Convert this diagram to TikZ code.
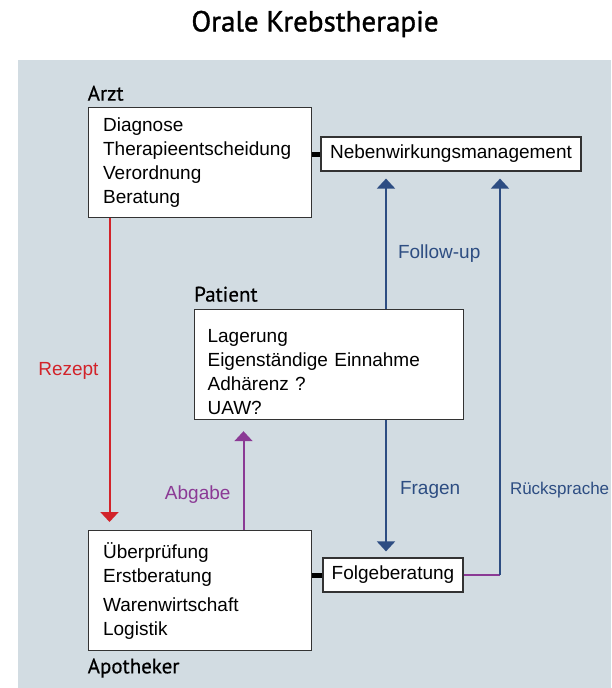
\documentclass[tikz,border=0pt]{standalone}
\usepackage{fontspec}
\setmainfont{Liberation Sans}
\newfontfamily\headfont[FakeBold=0.4]{PT Sans}
\newfontfamily\titlefont[FakeBold=1.2]{PT Sans}
\usepackage{xcolor}
\usetikzlibrary{positioning,arrows.meta}
\definecolor{bg-blue}{HTML}{D2DCE2}
\definecolor{rez-red}{HTML}{D2232A}
\definecolor{ab-purple}{HTML}{8B3A95}
\definecolor{fu-blue}{HTML}{2D4D82}

\begin{document}
\begin{tikzpicture}
[x=1pt, y=-1pt,
box-a/.style={rectangle, draw=black!80, line width=1.2pt, fill=white, align=left, inner xsep=15pt, inner ysep=0pt, anchor=north west, font=\fontsize{19}{24}\selectfont},
box-b/.style={rectangle, draw=black!80, line width=1.2pt, fill=white, inner xsep=0pt, inner ysep=0pt, minimum height=34pt, font=\fontsize{19}{24}\selectfont},
head-a/.style={inner sep=0pt, font=\headfont\fontsize{21}{24}\selectfont},
text-a/.style={inner sep=0pt, font=\fontsize{19}{22}\selectfont},
link-a/.style={line width=5pt, black},
arrow-a/.style={line width=2pt, -{Triangle[width=18pt,length=10pt]}},]
%\draw [dotted, step=50] (0,0) grid (611,688);
\useasboundingbox (0,0) rectangle (611,688);
\fill [bg-blue] (18,60) rectangle (611,688);
\node (title) [font=\titlefont\fontsize{29}{32}\selectfont] at (315,24) {Orale Krebstherapie};
\node (arzt-box)  [box-a, text width=193pt, minimum height=110pt] at (87.5,107) {Diagnose\\Therapieentscheidung\\Verordnung\\Beratung};
\node (arzt)      [head-a, above right = 6pt and 0pt of arzt-box.north west] {Arzt};
\node (neben-box) [box-b, minimum width=260pt] at (451,154) {Nebenwirkungsmanagement};
\node (pat-box)   [box-a, inner xsep=13pt, text width=243pt, minimum height=110pt] at (194,309) {\rule{0pt}{27pt}Lagerung\\Eigenständige Einnahme\\Adhärenz ?\\UAW?};
\node (patient)   [head-a, above right = 7pt and 0pt of pat-box.north west] {Patient};
\node (apo-box)   [box-a, text width=193pt, minimum height=120pt] at (87.5,530) {Überprüfung\\Erstberatung\\[5pt]Warenwirtschaft\\Logistik};
\node (apotheker) [head-a, below right = 7pt and 0pt of apo-box.south west] {Apotheker};
\node (folge-box) [box-b, minimum width=140pt] at (393,575) {Folgeberatung};
\coordinate (rez-x) at (109.5,0);
\coordinate (ab-x)  at (243.5,0);
\coordinate (fu-x)  at (386,0);
\coordinate (rs-x)  at (500,0);
\draw [link-a] (arzt-box.east |- neben-box.west) -- (neben-box.west);
\draw [link-a] (apo-box.east |- folge-box.west) -- (folge-box.west);
\draw [arrow-a, rez-red, shorten >=8pt] (arzt-box.south -| rez-x) -- node [text-a, left=10pt, pos=0.49] {Rezept} (apo-box.north -| rez-x);
\draw [arrow-a, ab-purple, shorten >=11pt] (apo-box.north -| ab-x) -- node [text-a, left=12pt, pos=0.32] {Abgabe} (pat-box.south -| ab-x);
\draw [arrow-a, fu-blue, shorten >=7pt] (pat-box.north -| fu-x) -- node [text-a, right=11pt, pos=0.4] {Follow-up} (neben-box.south -| fu-x);
\draw [arrow-a, fu-blue, shorten >=6pt] (pat-box.south -| fu-x) -- node [text-a, right=13pt, pos=0.51] {Fragen} (folge-box.north -| fu-x);
\draw [ab-purple, line width=1.5pt] (folge-box.east) -- (folge-box.east -| rs-x) coordinate (rs-corner);
\draw [arrow-a, fu-blue, shorten >=7pt] (rs-corner) -- node [text-a, right=9pt, pos=0.21, font=\fontsize{17}{20}\selectfont] {Rücksprache} (neben-box.south -| rs-x);
\end{tikzpicture}
\end{document}
